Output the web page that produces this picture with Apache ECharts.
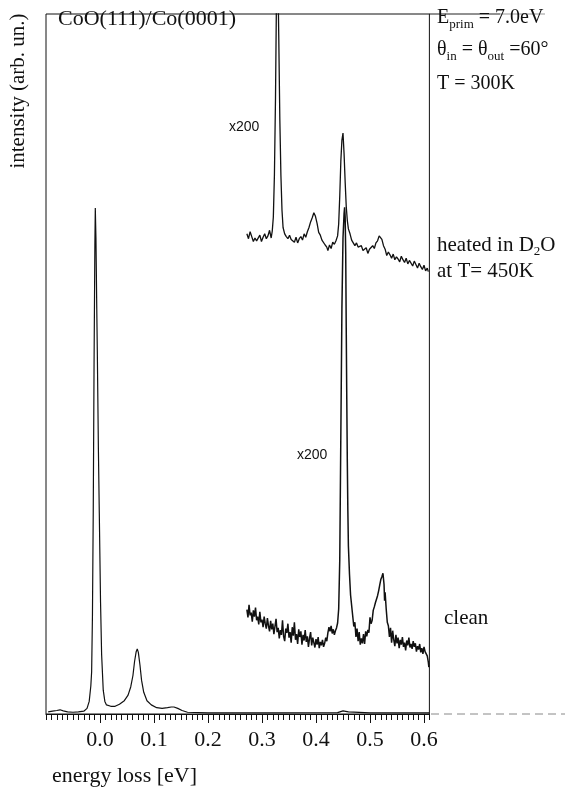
<!DOCTYPE html>
<html>
<head>
<meta charset="utf-8">
<script src="https://cdn.jsdelivr.net/npm/echarts@6/dist/echarts.min.js"></script>
<style>
  html, body { margin: 0; background: #fff; }
  #chart { width: 565px; height: 787px; }
</style>
</head>
<body>
<div id="chart"></div>
<script>
// energy loss [eV] vs intensity (arb. units, 0 = baseline, 100 = top of frame)
const cleanRaw = [
  [-0.096, 0.3], [-0.088, 0.4], [-0.08, 0.5], [-0.074, 0.6], [-0.068, 0.45], [-0.06, 0.3],
  [-0.05, 0.25], [-0.04, 0.3], [-0.03, 0.4], [-0.024, 0.8], [-0.020, 1.8], [-0.017, 4.0],
  [-0.0155, 6], [-0.014, 14], [-0.0125, 29], [-0.011, 50], [-0.0095, 67], [-0.0087, 72.3],
  [-0.0075, 68], [-0.006, 58], [-0.005, 52], [-0.003, 38], [-0.0013, 28.7], [0.001, 16],
  [0.003, 8.5], [0.006, 3.4], [0.009, 1.8], [0.012, 1.3], [0.02, 1.1], [0.028, 1.1],
  [0.036, 1.4], [0.045, 1.9], [0.052, 2.7], [0.057, 3.9], [0.061, 5.5], [0.064, 7.5],
  [0.067, 8.9], [0.069, 9.3], [0.071, 8.8], [0.074, 7.0], [0.077, 4.8], [0.081, 3.1],
  [0.087, 1.9], [0.095, 1.3], [0.105, 0.9], [0.115, 0.8], [0.125, 0.9], [0.132, 1.0],
  [0.137, 1.0], [0.144, 0.8], [0.152, 0.5], [0.162, 0.25], [0.2, 0.15], [0.3, 0.15],
  [0.44, 0.2], [0.45, 0.45], [0.46, 0.3], [0.5, 0.15], [0.61, 0.15]
];

const heatedX200 = [
  [0.272, 68.6], [0.275, 67.9], [0.278, 68.9], [0.281, 68.2], [0.284, 67.5], [0.287, 68.0],
  [0.290, 67.6], [0.293, 67.8], [0.296, 68.4], [0.299, 67.5], [0.302, 68.1], [0.305, 68.6],
  [0.308, 67.9], [0.311, 68.3], [0.314, 69.1], [0.317, 68.0], [0.319, 69.0], [0.321, 71],
  [0.323, 77], [0.325, 88], [0.327, 104], [0.329, 108], [0.331, 97], [0.333, 85],
  [0.335, 77], [0.337, 72], [0.339, 69.5], [0.342, 68.6], [0.345, 68.2], [0.348, 67.9],
  [0.351, 68.4], [0.354, 67.8], [0.357, 68.0], [0.360, 67.4], [0.363, 68.1], [0.366, 67.3],
  [0.369, 67.9], [0.372, 68.2], [0.375, 67.7], [0.378, 68.6], [0.381, 68.1], [0.384, 68.9],
  [0.387, 69.5], [0.390, 70.3], [0.393, 70.9], [0.396, 71.6], [0.399, 71.1], [0.402, 70.1],
  [0.405, 68.8], [0.408, 68.4], [0.411, 67.7], [0.414, 67.9], [0.417, 67.0], [0.420, 66.7],
  [0.422, 66.2], [0.425, 67.0], [0.428, 66.5], [0.431, 67.4], [0.434, 67.1], [0.437, 67.6],
  [0.440, 68.3], [0.442, 70], [0.444, 74], [0.446, 79], [0.448, 82], [0.450, 83],
  [0.452, 80], [0.454, 76], [0.456, 72.5], [0.458, 70.5], [0.460, 69.3], [0.463, 68.6],
  [0.466, 67.7], [0.469, 67.5], [0.472, 66.9], [0.475, 67.3], [0.478, 66.7], [0.481, 66.5],
  [0.484, 66.9], [0.487, 66.2], [0.490, 66.1], [0.493, 66.6], [0.496, 65.8], [0.499, 66.4],
  [0.502, 66.3], [0.505, 66.9], [0.508, 66.5], [0.511, 67.3], [0.514, 67.6], [0.517, 68.3],
  [0.519, 68.4], [0.522, 67.8], [0.525, 66.9], [0.528, 66.4], [0.531, 65.5], [0.534, 66.0],
  [0.537, 65.6], [0.540, 65.1], [0.543, 65.7], [0.546, 64.9], [0.549, 65.3], [0.552, 65.0],
  [0.555, 64.6], [0.558, 65.4], [0.561, 64.9], [0.564, 64.5], [0.567, 65.1], [0.570, 64.3],
  [0.573, 64.8], [0.576, 64.6], [0.579, 64.0], [0.582, 64.7], [0.585, 64.2], [0.588, 63.7],
  [0.591, 64.4], [0.594, 63.9], [0.597, 63.5], [0.600, 64.1], [0.603, 63.3], [0.606, 63.7],
  [0.608, 63.2]
];

const cleanX200 = [
  [0.272, 14.9], [0.274, 13.8], [0.276, 15.6], [0.278, 14.1], [0.280, 14.5], [0.282, 13.2],
  [0.284, 14.8], [0.286, 13.9], [0.288, 15.2], [0.290, 13.4], [0.292, 13.9], [0.294, 12.8],
  [0.296, 14.6], [0.298, 13.1], [0.300, 13.5], [0.302, 12.4], [0.304, 13.9], [0.306, 12.9],
  [0.308, 12.2], [0.310, 13.7], [0.312, 12.6], [0.314, 11.8], [0.316, 13.3], [0.318, 12.1],
  [0.320, 12.9], [0.322, 11.4], [0.324, 12.5], [0.326, 13.6], [0.328, 11.7], [0.330, 12.3],
  [0.332, 10.8], [0.334, 12.0], [0.336, 11.3], [0.338, 13.4], [0.340, 11.1], [0.342, 10.4],
  [0.344, 12.2], [0.346, 11.6], [0.348, 12.9], [0.350, 10.9], [0.352, 11.7], [0.354, 10.2],
  [0.356, 12.4], [0.358, 11.2], [0.360, 13.1], [0.362, 10.6], [0.364, 11.4], [0.366, 10.0],
  [0.368, 12.1], [0.370, 11.0], [0.372, 11.8], [0.374, 9.9], [0.376, 11.3], [0.378, 10.5],
  [0.380, 12.0], [0.382, 10.3], [0.384, 11.1], [0.386, 9.6], [0.388, 10.8], [0.390, 11.7],
  [0.392, 9.8], [0.394, 10.9], [0.396, 10.2], [0.398, 9.5], [0.400, 10.7], [0.402, 9.9],
  [0.404, 11.0], [0.406, 9.4], [0.408, 10.3], [0.410, 9.8], [0.412, 10.6], [0.414, 9.6],
  [0.416, 10.1], [0.418, 10.9], [0.420, 10.4], [0.422, 11.6], [0.424, 12.4], [0.426, 11.8],
  [0.428, 12.6], [0.430, 11.5], [0.432, 12.1], [0.434, 11.3], [0.436, 11.9], [0.438, 12.3],
  [0.440, 13.0], [0.442, 15], [0.444, 22], [0.446, 40], [0.448, 58], [0.450, 68],
  [0.452, 71.5], [0.453, 72.4], [0.454, 71], [0.455, 66], [0.456, 55], [0.457, 45],
  [0.458, 36], [0.459, 29], [0.460, 24], [0.462, 20], [0.464, 17], [0.466, 15.5],
  [0.468, 14.0], [0.470, 12.5], [0.472, 13.1], [0.474, 11.0], [0.476, 12.2], [0.478, 10.4],
  [0.480, 11.7], [0.482, 9.9], [0.484, 10.8], [0.486, 10.1], [0.488, 11.4], [0.490, 10.0],
  [0.492, 11.8], [0.494, 11.1], [0.496, 12.0], [0.498, 11.6], [0.500, 13.8], [0.502, 12.9],
  [0.504, 13.4], [0.506, 14.8], [0.508, 15.3], [0.510, 15.9], [0.512, 16.4], [0.514, 16.9],
  [0.516, 17.6], [0.518, 18.4], [0.520, 19.2], [0.522, 19.6], [0.524, 20.1], [0.526, 18.5],
  [0.527, 16.2], [0.528, 17.4], [0.530, 15.0], [0.532, 13.1], [0.534, 12.6], [0.536, 11.0],
  [0.538, 12.3], [0.540, 10.2], [0.542, 11.9], [0.544, 10.6], [0.546, 9.7], [0.548, 11.3],
  [0.550, 10.1], [0.552, 10.9], [0.554, 9.4], [0.556, 10.6], [0.558, 9.9], [0.560, 11.0],
  [0.562, 9.6], [0.564, 10.2], [0.566, 9.1], [0.568, 10.5], [0.570, 9.8], [0.572, 10.9],
  [0.574, 9.5], [0.576, 10.0], [0.578, 9.3], [0.580, 10.4], [0.582, 9.6], [0.584, 10.1],
  [0.586, 8.9], [0.588, 9.7], [0.590, 9.2], [0.592, 10.0], [0.594, 8.8], [0.596, 9.4],
  [0.598, 8.6], [0.600, 9.6], [0.602, 8.9], [0.604, 9.1], [0.606, 8.3], [0.608, 7.4],
  [0.609, 6.7]
];

const xMin = -0.1;
const xMax = 0.61;

const serif = 'Liberation Serif';
const chart = echarts.init(document.getElementById('chart'));

const lineSeries = (name, data, width) => ({
  name,
  type: 'line',
  data,
  showSymbol: false,
  smooth: false,
  clip: true,
  lineStyle: { color: '#111', width },
  silent: true
});

const txt = (x, y, text, size, extra) => ({
  type: 'text',
  x, y,
  style: Object.assign({
    text,
    fill: '#111',
    font: size + 'px "' + serif + '"',
    verticalAlign: 'middle'
  }, extra || {})
});

// subscript tokens sit a few pixels below the main baseline
const sub = { fontSize: 13, fontFamily: serif, verticalAlign: 'bottom', padding: [0, 0, -3, 0] };

chart.setOption({
  animation: false,
  backgroundColor: '#fff',
  grid: {
    left: 46, right: 565 - 429.4, top: 14, bottom: 73,
    show: true, borderColor: '#111', borderWidth: 1
  },
  xAxis: [
    {
      type: 'value',
      min: xMin, max: xMax, interval: 0.1,
      position: 'bottom',
      axisLine: { lineStyle: { color: '#111', width: 1.2 } },
      axisTick: { show: true, length: 9, lineStyle: { color: '#111' } },
      axisLabel: {
        showMinLabel: false, showMaxLabel: false,
        margin: 15,
        color: '#111', fontFamily: serif, fontSize: 22,
        formatter: v => v.toFixed(1)
      },
      splitLine: { show: false }
    },
    {
      type: 'value',
      min: xMin, max: xMax, interval: 0.01,
      position: 'bottom',
      axisLine: { show: false },
      axisTick: { show: true, length: 6, lineStyle: { color: '#111' } },
      axisLabel: { show: false },
      splitLine: { show: false }
    }
  ],
  yAxis: {
    type: 'value', min: 0, max: 100,
    axisLine: { show: false }, axisTick: { show: false },
    axisLabel: { show: false }, splitLine: { show: false }
  },
  series: [
    lineSeries('clean', cleanRaw, 1.2),
    lineSeries('heated in D2O x200', heatedX200, 1.3),
    lineSeries('clean x200', cleanX200, 1.5)
  ],
  graphic: [
    // scan edges beyond the frame
    { type: 'line', shape: { x1: 429, y1: 14, x2: 500, y2: 14 }, style: { stroke: '#222', lineWidth: 1 } },
    { type: 'line', shape: { x1: 500, y1: 14, x2: 545, y2: 14 }, style: { stroke: '#999', lineWidth: 1 } },
    { type: 'line', shape: { x1: 431, y1: 714, x2: 565, y2: 714 }, style: { stroke: '#888', lineWidth: 1, lineDash: [8, 5] } },

    txt(58, 19, 'CoO(111)/Co(0001)', 22),
    txt(437, 18, 'E{s|prim} = 7.0eV', 20, { rich: { s: sub } }),
    txt(437, 50, 'θ{s|in} = θ{s|out} =60°', 20, { rich: { s: sub } }),
    txt(437, 84, 'T = 300K', 20),
    txt(437, 245, 'heated in D{s|2}O', 21, { rich: { s: sub } }),
    txt(437, 271, 'at T= 450K', 21),
    txt(444, 618, 'clean', 21),
    txt(229, 127, 'x200', 14, { font: '14px "Liberation Sans"' }),
    txt(297, 455, 'x200', 14, { font: '14px "Liberation Sans"' }),
    txt(52, 776, 'energy loss [eV]', 22),
    {
      type: 'text',
      x: 18, y: 91,
      rotation: Math.PI / 2,
      style: {
        text: 'intensity (arb. un.)',
        fill: '#111',
        font: '21px "' + serif + '"',
        align: 'center',
        verticalAlign: 'middle'
      }
    }
  ]
});
</script>
</body>
</html>
